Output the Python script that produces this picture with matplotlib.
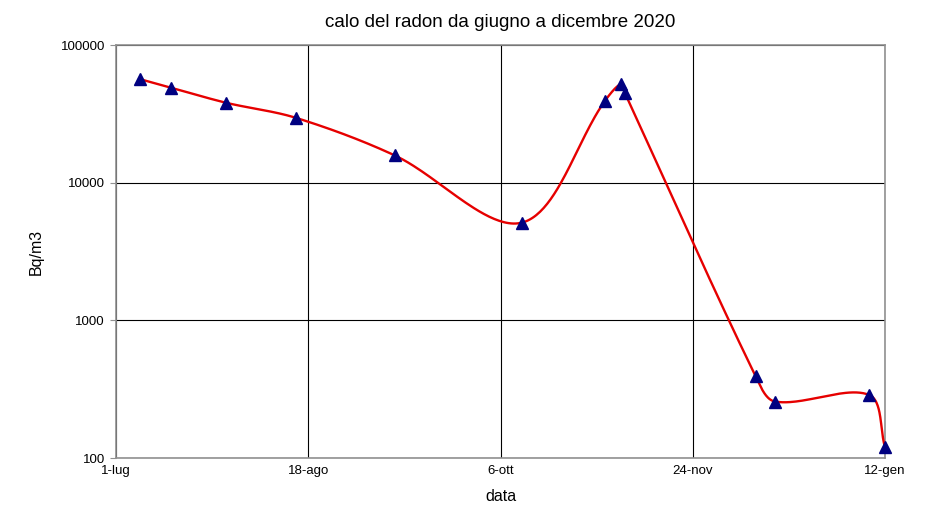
import numpy as np
import matplotlib
matplotlib.use("Agg")
import matplotlib.pyplot as plt

# days since 1-lug (axis runs 1-lug .. 12-gen) and radon values (Bq/m3)
days = [6, 14, 28, 46, 71, 103.5, 124.6, 128.7, 129.7, 163, 168, 192, 196]
radon = [56600, 49000, 38100, 29500, 15800, 5130, 39200, 52100, 44800, 394, 257, 287, 120]
tick_days = [0, 49, 98, 147, 196]
tick_labels = ["1-lug", "18-ago", "6-ott", "24-nov", "12-gen"]
y_ticks = [100, 1000, 10000, 100000]


def smooth(ax, x, y, n=50):
    # smoothed line like the spreadsheet: bezier segments in screen space,
    # tangent from the neighbours, handle length shared out by chord length
    p = ax.transData.transform(np.column_stack([x, y]))
    p = np.vstack([p[0], p, p[-1]])
    L = np.linalg.norm(np.diff(p, axis=0), axis=1)
    ctrl_out, ctrl_in = {}, {}
    for i in range(1, len(p) - 1):
        T = p[i + 1] - p[i - 1]
        tot = L[i - 1] + L[i]
        ctrl_out[i] = p[i] + T * (L[i] / tot) / 3
        ctrl_in[i] = p[i] - T * (L[i - 1] / tot) / 3
    out = []
    t = np.linspace(0, 1, n)[:, None]
    for i in range(1, len(p) - 2):
        p1, p2 = p[i], p[i + 1]
        c1, c2 = ctrl_out[i], ctrl_in[i + 1]
        seg = (1 - t) ** 3 * p1 + 3 * (1 - t) ** 2 * t * c1 + 3 * (1 - t) * t ** 2 * c2 + t ** 3 * p2
        out.append(seg if i == 1 else seg[1:])
    out = ax.transData.inverted().transform(np.vstack(out))
    return out[:, 0], out[:, 1]


plt.rcParams['font.family'] = ['Liberation Sans', 'DejaVu Sans']

fig = plt.figure(figsize=(9.26, 5.08), dpi=100)
ax = fig.add_axes([0.1253, 0.0984, 0.8304, 0.8130])

ax.set_yscale("log")
ax.set_ylim(100, 100000)
ax.set_xlim(0, 196)

sx, sy = smooth(ax, days, radon)
ax.plot(sx, sy, color="#e60000", lw=1.7, zorder=3)
ax.plot(days, radon, ls="none", marker="^", ms=8, color="#000080", zorder=4, clip_on=False)

ax.set_yticks(y_ticks)
ax.set_yticklabels([str(v) for v in y_ticks])
ax.yaxis.set_minor_locator(matplotlib.ticker.NullLocator())
ax.set_xticks(tick_days)
ax.set_xticklabels(tick_labels)

ax.grid(True, color="black", lw=0.8)
ax.set_axisbelow(True)
for s in ax.spines.values():
    s.set_color("#909090")
    s.set_linewidth(1.2)
ax.tick_params(axis="y", direction="out", length=4, color="#909090", labelsize=9.5, pad=4)
ax.tick_params(axis="x", length=0, labelsize=9.5, pad=5)

ax.set_title("calo del radon da giugno a dicembre 2020", fontsize=13.5, pad=13)
ax.set_xlabel("data", fontsize=11.5, labelpad=9)
ax.set_ylabel("Bq/m3", fontsize=11.5, labelpad=12)

fig.savefig("out.png", dpi=100)
